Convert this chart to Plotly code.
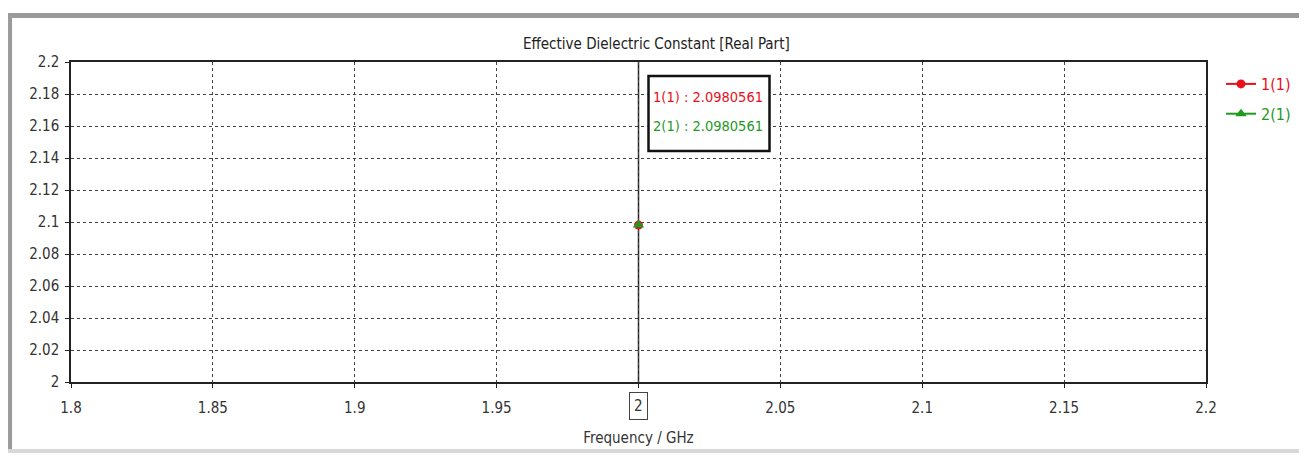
import plotly.graph_objects as go

freq = [2.0]
eps_1 = [2.0980561]
eps_2 = [2.0980561]
names = ["1(1)", "2(1)"]
colors = ["#e8101c", "#1f9a1f"]
x_ticks = [1.8, 1.85, 1.9, 1.95, 2.0, 2.05, 2.1, 2.15, 2.2]
x_ticktext = ["1.8", "1.85", "1.9", "1.95", "", "2.05", "2.1", "2.15", "2.2"]
y_ticks = [2.0, 2.02, 2.04, 2.06, 2.08, 2.1, 2.12, 2.14, 2.16, 2.18, 2.2]
y_ticktext = ["2", "2.02", "2.04", "2.06", "2.08", "2.1", "2.12", "2.14", "2.16", "2.18", "2.2"]

FONT = "Liberation Sans Narrow, DejaVu Sans Condensed, Arial Narrow, sans-serif"
OFF = 8  # page body margin
W, H = 1307 - OFF, 455 - OFF
L, T = 71 - OFF, 62 - OFF
PW, PH = 1136, 320
R, B = W - L - PW, H - T - PH

def px(p):  # screen pixel x -> paper
    return (p - OFF - L) / PW

def py(q):  # screen pixel y -> paper
    return (T + PH - (q - OFF)) / PH

fig = go.Figure()
fig.add_trace(go.Scatter(
    x=freq, y=eps_1, mode="lines+markers", legendgroup="a",
    name=f"<span style='color:{colors[0]}'>{names[0]}</span>",
    line=dict(color=colors[0], width=2),
    marker=dict(symbol="circle", size=9, color=colors[0]),
))
fig.add_trace(go.Scatter(
    x=freq, y=eps_2, mode="lines+markers", legendgroup="b",
    name=f"<span style='color:{colors[1]}'>{names[1]}</span>",
    line=dict(color=colors[1], width=2),
    marker=dict(symbol="triangle-up", size=10, color=colors[1]),
))

fig.add_vline(x=freq[0], line=dict(color="#222222", width=1.5), layer="below")

# marker readout box
fig.add_shape(type="rect", xref="x", yref="paper", xsizemode="pixel",
              xanchor=freq[0], x0=10, x1=131, y0=py(151), y1=py(76),
              line=dict(color="#111111", width=2.5), fillcolor="white", layer="above")
for i, (nm, val, col) in enumerate([(names[0], eps_1[0], colors[0]), (names[1], eps_2[0], colors[1])]):
    fig.add_annotation(
        x=freq[0], y=py(97 + 29 * i), xref="x", yref="paper",
        xanchor="left", yanchor="middle", xshift=12, showarrow=False,
        text=f"<span style='color:{col}'>{nm} : {val:.7f}</span>",
        font=dict(family=FONT, size=14.5),
    )
# boxed current x-value
fig.add_annotation(
    x=freq[0], y=py(406), xref="x", yref="paper", yanchor="middle",
    showarrow=False, text=f"{freq[0]:g}",
    font=dict(family=FONT, size=15, color="#333333"),
    bordercolor="#444444", borderwidth=1, borderpad=4, bgcolor="white",
)

# window frame (gray bars)
frame_col = "#9a9a9a"
fig.add_shape(type="rect", xref="paper", yref="paper",
              x0=px(8), x1=px(1320), y0=py(18), y1=py(13),
              fillcolor=frame_col, line=dict(width=0), layer="above")
fig.add_shape(type="rect", xref="paper", yref="paper",
              x0=px(8), x1=px(12), y0=py(452), y1=py(13),
              fillcolor=frame_col, line=dict(width=0), layer="above")
fig.add_shape(type="rect", xref="paper", yref="paper",
              x0=px(8), x1=px(1320), y0=py(453), y1=py(449),
              fillcolor="#d8d8d8", line=dict(width=0), layer="above")

axis_common = dict(
    showline=True, linecolor="#222222", linewidth=1.5, mirror=True,
    showgrid=True, gridcolor="#444444", griddash="dot", gridwidth=1,
    ticks="outside", ticklen=4, tickcolor="#222222",
    tickfont=dict(family=FONT, size=15, color="#333333"),
    zeroline=False,
)
fig.update_layout(
    width=W, height=H,
    margin=dict(l=L, r=R, t=T, b=B),
    paper_bgcolor="white", plot_bgcolor="white",
    title=dict(text="Effective Dielectric Constant [Real Part]",
               x=px(638), xanchor="center", y=1 - (44 - OFF) / H, yanchor="middle",
               font=dict(family=FONT, size=15, color="#222222")),
    xaxis=dict(range=[1.8, 2.2], tickvals=x_ticks, ticktext=x_ticktext,
               ticklabelstandoff=7,
               title=dict(text="Frequency / GHz", standoff=17,
                          font=dict(family=FONT, size=15, color="#333333")),
               **axis_common),
    yaxis=dict(range=[2.0, 2.2], tickvals=y_ticks, ticktext=y_ticktext,
               ticklabelstandoff=3,
               **axis_common),
    legend=dict(x=px(1221), y=py(67), xanchor="left", yanchor="top",
                font=dict(family=FONT, size=16), bgcolor="rgba(0,0,0,0)",
                tracegroupgap=6),
    showlegend=True,
)

fig.write_html("out.html")
